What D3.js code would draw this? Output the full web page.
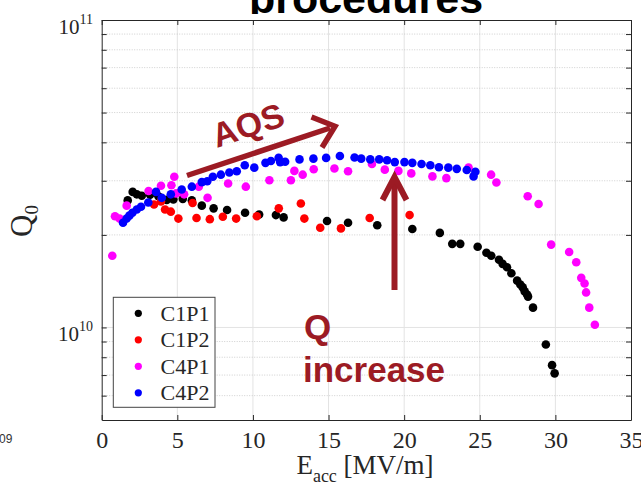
<!DOCTYPE html>
<html><head><meta charset="utf-8">
<script src="https://cdn.jsdelivr.net/npm/d3@7"></script>
<style>body{margin:0;background:#fff}svg{display:block}</style>
</head><body>
<svg id="c" width="641" height="492"></svg>
<script>
// ---------- data (Q in units of 1e10) ----------
const xTicks = [0,5,10,15,20,25,30,35];
const yMajor = [1, 10];
const yMajorLabels = [["10","10"],["10","11"]];
const yMinor = [0.6,0.7,0.8,0.9,2,3,4,5,6,7,8,9];
const seriesNames = ["C1P1","C1P2","C4P1","C4P2"];
const seriesColors = ["#000000","#ff0000","#ff00ff","#0000ff"];

const C1P1_E = [1.72,2.05,2.32,2.65,3.20,3.75,4.30,4.74,5.36,5.96,6.62,7.40,8.29,9.48,10.41,11.52,12.03,14.90,16.29,18.22,20.54,22.36,23.18,23.71,24.86,25.44,25.76,26.27,26.51,26.80,27.09,27.47,27.68,27.84,27.97,28.13,28.19,28.52,29.37,29.78,29.95];
const C1P1_Q = [2.59,2.76,2.71,2.68,2.70,2.67,2.60,2.61,2.62,2.59,2.49,2.44,2.41,2.36,2.33,2.32,2.28,2.22,2.19,2.15,2.09,2.03,1.87,1.87,1.83,1.75,1.71,1.66,1.61,1.57,1.50,1.42,1.38,1.35,1.31,1.28,1.26,1.16,0.88,0.754,0.709];

const C1P2_E = [3.46,3.92,4.19,4.57,5.07,6.01,6.27,7.15,8.01,8.89,10.26,11.71,13.17,13.40,14.45,15.82,17.72,20.36];
const C1P2_Q = [2.51,2.57,2.42,2.38,2.26,2.54,2.27,2.25,2.29,2.26,2.30,2.44,2.53,2.26,2.11,2.10,2.27,2.32];

const C4P1_E = [0.70,0.88,1.18,1.65,3.10,3.92,4.61,4.80,4.92,5.45,6.42,7.00,8.36,9.53,11.09,12.51,12.74,13.29,14.02,15.39,16.29,17.87,18.72,19.62,20.47,21.87,22.79,24.26,25.75,26.10,28.17,28.89,29.72,30.91,31.38,31.71,31.93,32.03,32.24,32.61];
const C4P1_Q = [1.71,2.30,2.26,2.49,2.78,2.89,2.90,3.09,2.73,2.71,2.87,2.64,2.94,2.87,3.01,3.01,3.23,3.14,3.27,3.29,3.22,3.40,3.26,3.23,3.17,3.10,3.06,3.31,3.14,2.96,2.67,2.52,1.86,1.76,1.63,1.45,1.39,1.30,1.16,1.02];

const C4P2_E = [1.41,1.65,1.83,2.03,2.32,2.60,3.08,3.59,3.97,4.57,5.29,5.96,6.62,6.98,7.35,7.88,8.44,8.93,9.46,10.09,10.83,11.19,11.70,11.80,12.13,13.08,14.00,14.84,15.75,16.72,17.16,17.76,18.35,18.87,19.38,20.02,20.54,21.15,21.73,22.30,22.92,23.48,24.14,24.71,24.59];
const C4P2_Q = [2.19,2.26,2.31,2.36,2.42,2.47,2.55,2.76,2.64,2.71,2.81,2.87,2.97,2.99,3.09,3.14,3.19,3.22,3.37,3.31,3.43,3.48,3.56,3.45,3.46,3.52,3.54,3.56,3.61,3.57,3.54,3.52,3.52,3.50,3.45,3.45,3.43,3.40,3.37,3.32,3.31,3.28,3.25,3.21,3.10];

const seriesE = [C1P1_E, C1P2_E, C4P1_E, C4P2_E];
const seriesQ = [C1P1_Q, C1P2_Q, C4P1_Q, C4P2_Q];

// ---------- layout ----------
const L = 101.7, R = 631, T = 20, B = 420;
const svg = d3.select("#c");
const x = d3.scaleLinear().domain([0,35]).range([L,R]);
const y = d3.scaleLog().domain([0.5,10]).range([B,T]);
const serif = "'Liberation Serif','Times New Roman',serif";
const sans = "'Liberation Sans',Arial,sans-serif";
const axisCol = "#262626";
const annCol = "#9c1b24";

// title (cut off at top)
svg.append("clipPath").attr("id","tclip").append("rect")
  .attr("x",0).attr("y",0).attr("width",641).attr("height",14);
svg.append("text").attr("clip-path","url(#tclip)")
  .attr("x",366).attr("y",13).attr("text-anchor","middle")
  .attr("font-family",sans).attr("font-weight","bold").attr("font-size",43)
  .attr("fill","#000").text("procedures");

svg.append("text").attr("x",-1).attr("y",443).attr("font-family",sans)
  .attr("font-size",12).attr("fill","#333").text("09");

// grid
const grid = svg.append("g");
grid.selectAll("line.gx").data(xTicks.filter(t=>t>0&&t<35)).join("line")
  .attr("x1",d=>x(d)).attr("x2",d=>x(d)).attr("y1",T).attr("y2",B)
  .attr("stroke","#e3e3e3").attr("stroke-width",1);
grid.selectAll("line.gy").data(yMajor.filter(v=>v<10)).join("line")
  .attr("x1",L).attr("x2",R).attr("y1",d=>y(d)).attr("y2",d=>y(d))
  .attr("stroke","#e3e3e3").attr("stroke-width",1);
grid.selectAll("line.gm").data(yMinor).join("line")
  .attr("x1",L).attr("x2",R).attr("y1",d=>y(d)).attr("y2",d=>y(d))
  .attr("stroke","#c4c4c4").attr("stroke-width",0.8).attr("stroke-dasharray","1,1.5");

// axes with inward ticks
function styleAxis(g){
  g.selectAll("path.domain").attr("stroke",axisCol);
  g.selectAll(".tick line").attr("stroke",axisCol);
}
const gb = svg.append("g").attr("transform",`translate(0,${B})`)
  .call(d3.axisBottom(x).tickValues(xTicks).tickSize(-5).tickSizeOuter(0).tickPadding(11).tickFormat(d3.format("d")));
styleAxis(gb);
gb.selectAll("text").attr("font-family",serif).attr("font-size",24).attr("fill",axisCol);
gb.attr("font-size",null).attr("font-family",null);

const gt = svg.append("g").attr("transform",`translate(0,${T})`)
  .call(d3.axisTop(x).tickValues(xTicks).tickSize(-5).tickSizeOuter(0).tickFormat(""));
styleAxis(gt);

const gl = svg.append("g").attr("transform",`translate(${L},0)`)
  .call(d3.axisLeft(y).tickValues(yMajor.concat(yMinor)).tickSize(-5).tickSizeOuter(0).tickFormat(""));
styleAxis(gl);
const gr = svg.append("g").attr("transform",`translate(${R},0)`)
  .call(d3.axisRight(y).tickValues(yMajor.concat(yMinor)).tickSize(-5).tickSizeOuter(0).tickFormat(""));
styleAxis(gr);

// y tick labels with superscripts
yMajor.forEach((v,i)=>{
  const t = svg.append("text").attr("x",93).attr("y",y(v)+13.5)
    .attr("text-anchor","end").attr("font-family",serif).attr("fill",axisCol);
  t.append("tspan").attr("font-size",21).text(yMajorLabels[i][0]);
  t.append("tspan").attr("font-size",14).attr("dy",-9.5).text(yMajorLabels[i][1]);
});

// axis labels
const xl = svg.append("text").attr("x",365).attr("y",474).attr("text-anchor","middle")
  .attr("font-family",serif).attr("fill",axisCol);
xl.append("tspan").attr("font-size",27).text("E");
xl.append("tspan").attr("font-size",18).attr("dy",8).text("acc");
xl.append("tspan").attr("font-size",27).attr("dy",-8).text(" [MV/m]");

const yl = svg.append("text").attr("transform","translate(32,221) rotate(-90)")
  .attr("text-anchor","middle").attr("font-family",serif).attr("fill",axisCol);
yl.append("tspan").attr("font-size",31).text("Q");
yl.append("tspan").attr("font-size",19).attr("dy",6).text("0");

// data
seriesNames.forEach((name,i)=>{
  const pts = seriesE[i].map((e,j)=>({e, q: seriesQ[i][j]}));
  svg.append("g").selectAll("circle").data(pts).join("circle")
    .attr("cx",d=>x(d.e)).attr("cy",d=>y(d.q)).attr("r",4.3)
    .attr("fill",seriesColors[i]);
});

// annotations
const ann = svg.append("g").attr("stroke",annCol).attr("fill","none");
ann.append("line").attr("x1",187).attr("y1",175.5).attr("x2",330).attr("y2",128)
  .attr("stroke-width",5.5);
ann.append("polyline").attr("points","311.5,117 335,126.3 322,147.5")
  .attr("stroke-width",5.5).attr("stroke-linejoin","miter");
ann.append("line").attr("x1",394.5).attr("y1",290).attr("x2",394.5).attr("y2",181)
  .attr("stroke-width",6);
ann.append("polyline").attr("points","382.5,200 394.5,177 406.5,200")
  .attr("stroke-width",6).attr("stroke-linejoin","miter");

svg.append("text").attr("transform","translate(248,125) rotate(-18.3)")
  .attr("y",12).attr("text-anchor","middle").attr("font-family",sans)
  .attr("font-weight","bold").attr("font-size",34).attr("fill",annCol).text("AQS");
svg.append("text").attr("x",304).attr("y",339).attr("font-family",sans)
  .attr("font-weight","bold").attr("font-size",35).attr("fill",annCol).text("Q");
svg.append("text").attr("x",303).attr("y",382).attr("font-family",sans)
  .attr("font-weight","bold").attr("font-size",35).attr("fill",annCol).text("increase");

// legend
const lg = svg.append("g");
lg.append("rect").attr("x",113.3).attr("y",297.3).attr("width",101.7).attr("height",110)
  .attr("fill","#fff").attr("stroke","#444").attr("stroke-width",1);
seriesNames.forEach((name,i)=>{
  const yy = 313.3 + i*26.5;
  lg.append("circle").attr("cx",138.3).attr("cy",yy).attr("r",3.6).attr("fill",seriesColors[i]);
  lg.append("text").attr("x",160.5).attr("y",yy+7.5).attr("font-family",serif)
    .attr("font-size",22).attr("fill",axisCol).text(name);
});
</script>
</body></html>
